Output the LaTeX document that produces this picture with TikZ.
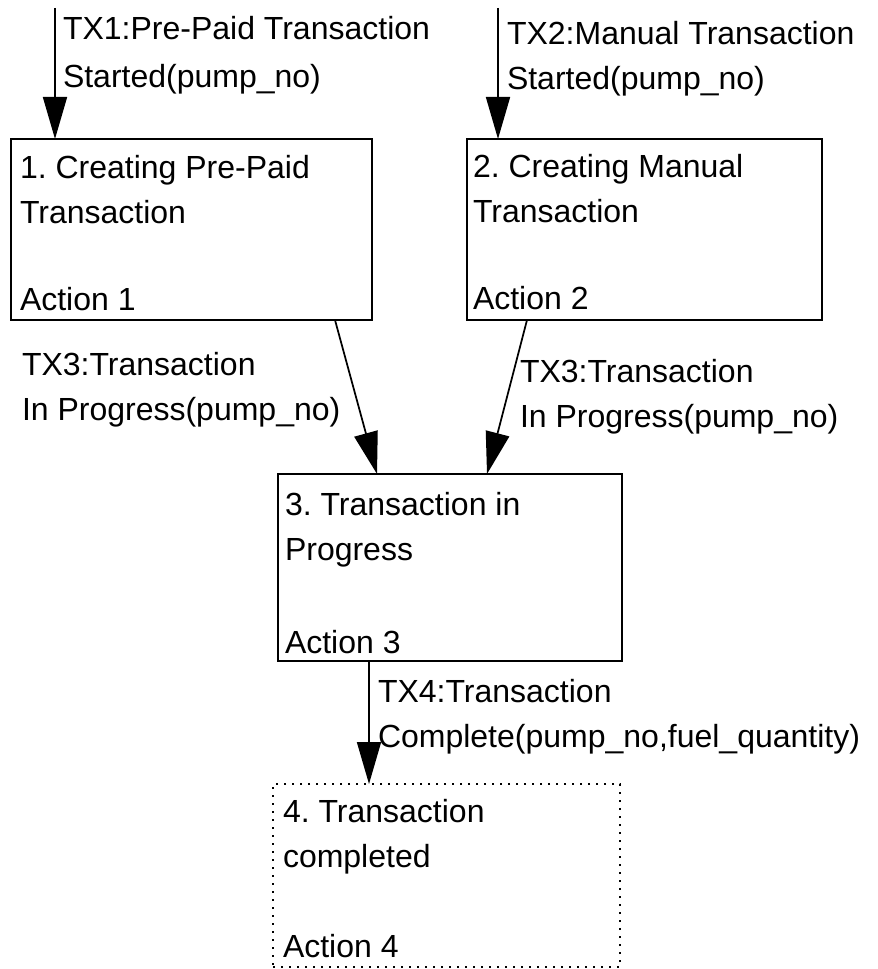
\documentclass[tikz,border=0pt]{standalone}
\usepackage{fontspec}
\setmainfont{Liberation Sans}
\frenchspacing
\usetikzlibrary{arrows.meta,calc,fit}
\begin{document}
\begin{tikzpicture}[x=0.75pt,y=-0.75pt,
  every node/.style={inner sep=0pt, outer sep=0pt},
  txt/.style={anchor=base west, font=\fontsize{24pt}{36pt}\selectfont},
  statebox/.style={draw, line width=1.2pt},
  finalbox/.style={draw, line width=1.7pt, dash pattern=on 1.7pt off 4.3pt},
  flow/.style={draw, line width=1.3pt, -{Triangle[length=31.5pt,width=18pt]}}]
\useasboundingbox (0,0) rectangle (877,969);

% corners of the four states
\coordinate (b1nw) at (11,139);  \coordinate (b1se) at (372,320);
\coordinate (b2nw) at (467,139); \coordinate (b2se) at (822,320);
\coordinate (b3nw) at (278,474); \coordinate (b3se) at (622,661);
\coordinate (b4nw) at (273,784); \coordinate (b4se) at (620,967);

\node[statebox, fit=(b1nw)(b1se)] (b1) {};
\node[statebox, fit=(b2nw)(b2se)] (b2) {};
\node[statebox, fit=(b3nw)(b3se)] (b3) {};
\node[finalbox, fit=(b4nw)(b4se)] (b4) {};

% state texts
\node[txt] (b1a) at (20,179) {1. Creating Pre-Paid};
\node[txt] (b1b) at (20,224) {Transaction};
\node[txt] (b1c) at (20,311) {Action 1};

\node[txt] (b2a) at (473,178) {2. Creating Manual};
\node[txt] (b2b) at (473,223) {Transaction};
\node[txt] (b2c) at (473,310) {Action 2};

\node[txt] (b3a) at (285,515) {3. Transaction in};
\node[txt] (b3b) at (285,560) {Progress};
\node[txt] (b3c) at (285,653) {Action 3};

\node[txt] (b4a) at (283,822) {4. Transaction};
\node[txt] (b4b) at (283,867) {completed};
\node[txt] (b4c) at (283,957) {Action 4};

% incoming events
\coordinate (s1) at (55,8);
\coordinate (s2) at (498,8);
\draw[flow] (s1) -- (s1 |- b1.north);
\draw[flow] (s2) -- (s2 |- b2.north);

\node[txt] (tx1a) at (63,40) {TX1:Pre-Paid Transaction};
\node[txt] (tx1b) at (63,88) {Started(pump\_no)};
\node[txt] (tx2a) at (507,45) {TX2:Manual Transaction};
\node[txt] (tx2b) at (507,90) {Started(pump\_no)};

% transitions between states
\draw[flow] ($(b1.south)+(143.5,0)$) -- ($(b3.north)+(-73,0)$);
\draw[flow] ($(b2.south)+(-117.5,0)$) -- ($(b3.north)+(37,0)$);
\draw[flow] ($(b3.south)+(-81,0)$) -- ($(b4.north)+(-77.5,0)$);

\node[txt] (tx3a) at (22,375) {TX3:Transaction};
\node[txt] (tx3b) at (22,420) {In Progress(pump\_no)};
\node[txt] (tx3c) at (520,382) {TX3:Transaction};
\node[txt] (tx3d) at (520,427) {In Progress(pump\_no)};
\node[txt] (tx4a) at (378,702) {TX4:Transaction};
\node[txt] (tx4b) at (378,747) {Complete(pump\_no,fuel\_quantity)};
\end{tikzpicture}
\end{document}
